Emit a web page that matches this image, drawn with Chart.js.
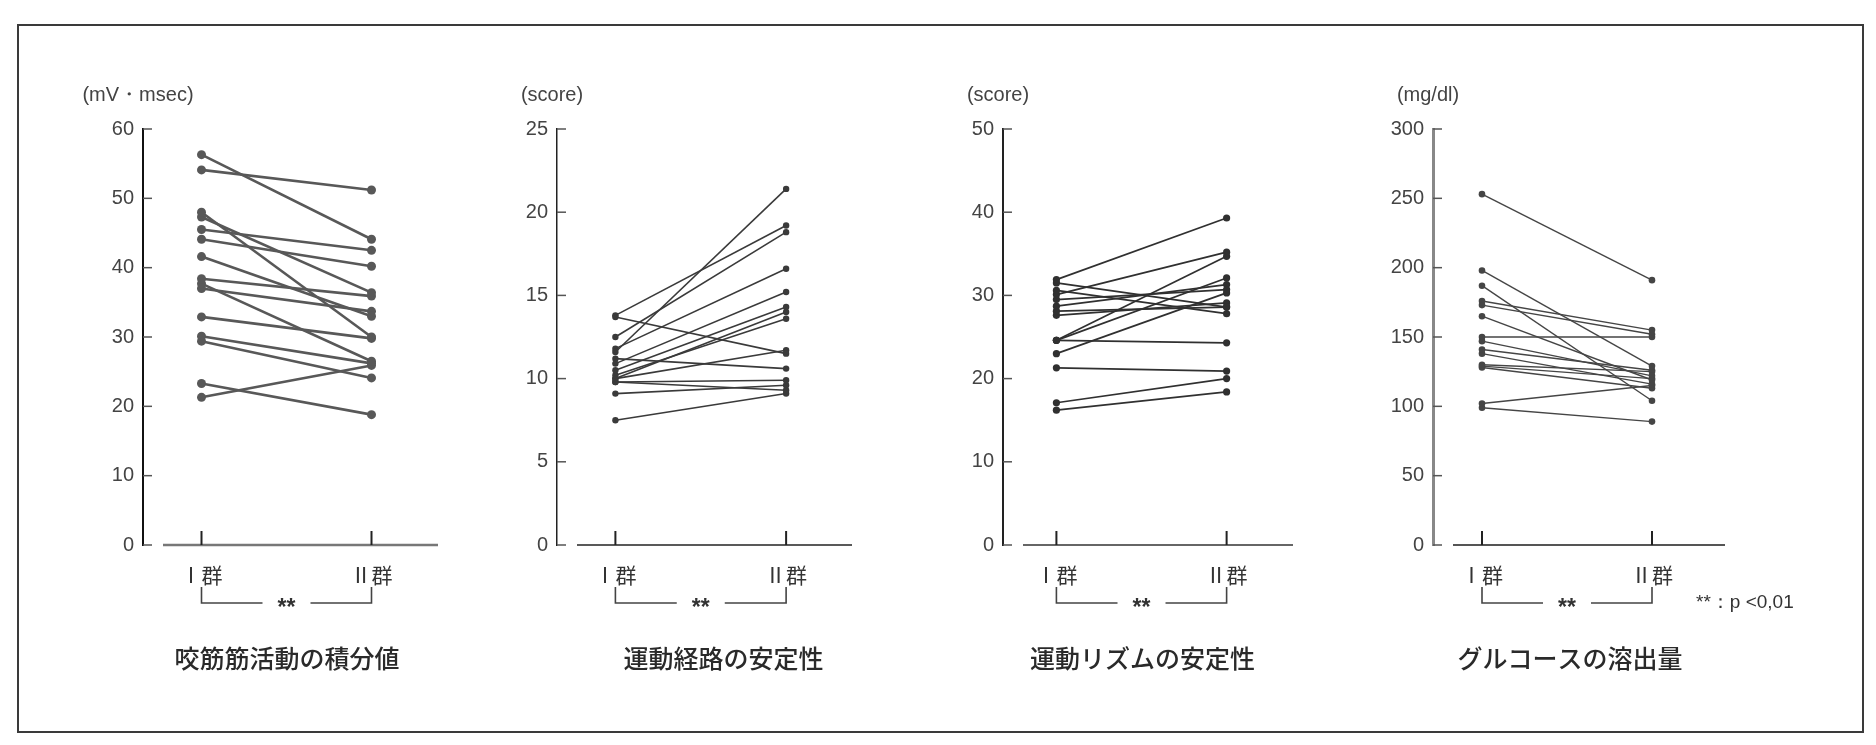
<!DOCTYPE html>
<html><head><meta charset="utf-8">
<script src="https://cdn.jsdelivr.net/npm/chart.js@4.4.0/dist/chart.umd.min.js"></script>
<style>
html,body{margin:0;padding:0;background:#fff;width:1876px;height:745px;overflow:hidden;}
#frame{position:absolute;left:17px;top:24px;width:1843px;height:705px;border:2px solid #3a3a3a;box-sizing:content-box;}
canvas{position:absolute;}
#note{position:absolute;left:1696px;top:589px;font:19px "Liberation Sans",Arial,sans-serif;color:#333;white-space:nowrap;}
</style></head><body>
<div id="frame"></div>
<canvas id="c0"></canvas><canvas id="c1"></canvas><canvas id="c2"></canvas><canvas id="c3"></canvas>
<div id="note"></div>
<script>
// ---- data ----
const groupLabels = ['Ⅰ群', 'Ⅱ群'];
const unitLabels = ['(mV・msec)', '(score)', '(score)', '(mg/dl)'];
const panelTitles = ['咬筋筋活動の積分値', '運動経路の安定性', '運動リズムの安定性', 'グルコースの溶出量'];
const sigMark = '**';
const noteText = '**：p <0,01';

const masseterI  = [56.3, 54.1, 48.0, 47.3, 45.5, 44.1, 41.6, 38.4, 37.7, 37.0, 32.9, 30.1, 29.4, 23.3, 21.3];
const masseterII = [44.1, 51.2, 30.0, 36.4, 42.5, 40.2, 33.0, 35.9, 26.5, 33.7, 29.8, 26.2, 24.1, 18.8, 25.9];

const pathI  = [13.8, 13.7, 12.5, 11.6, 11.8, 10.9, 10.5, 10.2, 10.0, 10.0, 11.2, 9.8, 9.8, 9.1, 7.5];
const pathII = [19.2, 11.5, 18.8, 21.4, 16.6, 15.2, 14.3, 13.6, 14.0, 11.7, 10.6, 9.9, 9.3, 9.6, 9.1];

const rhythmI  = [31.9, 31.5, 30.6, 30.1, 29.5, 28.7, 28.1, 27.6, 24.6, 24.6, 24.6, 23.0, 21.3, 17.1, 16.2];
const rhythmII = [39.3, 28.6, 27.8, 35.2, 30.7, 31.3, 28.6, 29.1, 32.1, 34.7, 24.3, 30.3, 20.9, 20.0, 18.4];

const glucoseI  = [253, 198, 187, 176, 173, 165, 150, 147, 141, 138, 130, 128, 129, 102, 99];
const glucoseII = [191, 129, 104, 155, 152, 119, 150, 122, 126, 116, 125, 113, 120, 115, 89];

const yMaxes = [60, 25, 50, 300];
const ySteps = [10, 5, 10, 50];

const seriesI  = [masseterI, pathI, rhythmI, glucoseI];
const seriesII = [masseterII, pathII, rhythmII, glucoseII];

// ---- layout / style ----
const geom = [
  {L0: 143,    pI: 201.5, pII: 371.5, R0: 438,  titleX: 287,  line: '#585858', lw: 2.6, r: 4.5, yAx: '#111', yAxW: 2,   xAx: '#777', xAxW: 2.5},
  {L0: 556.5,  pI: 615,   pII: 786,   R0: 852,  titleX: 723,  line: '#3a3a3a', lw: 1.6, r: 3.2, yAx: '#222', yAxW: 1.5, xAx: '#222', xAxW: 1.5},
  {L0: 1002.5, pI: 1056,  pII: 1226.5,R0: 1293, titleX: 1142, line: '#303030', lw: 1.7, r: 3.6, yAx: '#222', yAxW: 2,   xAx: '#333', xAxW: 1.5},
  {L0: 1433,   pI: 1482,  pII: 1652,  R0: 1725, titleX: 1570, line: '#454545', lw: 1.4, r: 3.3, yAx: '#888', yAxW: 3,   xAx: '#555', xAxW: 2}
];
const Y_AXIS_W = 70, TOP = 60, HEIGHT = 640, PAD_TOP = 69, PAD_R = 10, AXIS_Y = 545;

const decor = {
  id: 'decor',
  afterDraw(chart, args, o) {
    const {ctx, chartArea: a, scales: {x, y}} = chart;
    const y0 = y.getPixelForValue(0);
    ctx.save();
    ctx.lineCap = 'butt';
    ctx.strokeStyle = o.xAx; ctx.lineWidth = o.xAxW;
    ctx.beginPath(); ctx.moveTo(a.left + 20, y0); ctx.lineTo(a.right, y0); ctx.stroke();
    ctx.strokeStyle = '#555'; ctx.lineWidth = 1.5;
    y.ticks.forEach(t => {
      const py = y.getPixelForValue(t.value);
      ctx.beginPath(); ctx.moveTo(a.left, py); ctx.lineTo(a.left + 9, py); ctx.stroke();
    });
    const px = [0, 1].map(v => x.getPixelForValue(v));
    ctx.strokeStyle = '#222'; ctx.lineWidth = 2;
    px.forEach(p => { ctx.beginPath(); ctx.moveTo(p, y0); ctx.lineTo(p, y0 - 14); ctx.stroke(); });
    const bt = y0 + 42, bl = y0 + 58, mid = (px[0] + px[1]) / 2;
    ctx.strokeStyle = '#444'; ctx.lineWidth = 1.6;
    ctx.beginPath();
    ctx.moveTo(px[0], bt); ctx.lineTo(px[0], bl); ctx.lineTo(mid - 24, bl);
    ctx.moveTo(mid + 24, bl); ctx.lineTo(px[1], bl); ctx.lineTo(px[1], bt);
    ctx.stroke();
    ctx.fillStyle = '#333'; ctx.font = 'bold 23px "Liberation Sans", Arial, sans-serif';
    ctx.textAlign = 'center'; ctx.textBaseline = 'middle';
    ctx.fillText(sigMark, mid, bl + 6);
    ctx.font = '20px "Liberation Sans", Arial, sans-serif'; ctx.fillStyle = '#444';
    ctx.fillText(o.unit, a.left - 5, a.top - 34);
    ctx.font = '500 25px "Noto Sans CJK JP", sans-serif'; ctx.fillStyle = '#2a2a2a';
    ctx.fillText(o.title, o.titleX - o.canvasLeft, y0 + 113);
    ctx.restore();
  }
};

document.getElementById('note').textContent = noteText;

geom.forEach((g, i) => {
  const cv = document.getElementById('c' + i);
  const left = g.L0 - Y_AXIS_W;
  const width = g.R0 - left + PAD_R;
  cv.width = width; cv.height = HEIGHT;
  cv.style.left = left + 'px'; cv.style.top = TOP + 'px';
  const k = g.pII - g.pI;
  const xmin = -(g.pI - g.L0) / k, xmax = (g.R0 - g.pI) / k;
  const datasets = seriesI[i].map((v, j) => ({
    data: [{x: 0, y: v}, {x: 1, y: seriesII[i][j]}],
    showLine: true,
    borderColor: g.line, backgroundColor: g.line, borderWidth: g.lw,
    pointRadius: g.r, pointBorderWidth: 0, pointBackgroundColor: g.line
  }));
  new Chart(cv, {
    type: 'scatter',
    data: {datasets},
    plugins: [decor],
    options: {
      responsive: false, animation: false, devicePixelRatio: 1,
      layout: {padding: {top: PAD_TOP, right: PAD_R, left: 0, bottom: 0}},
      plugins: {
        legend: {display: false}, tooltip: {enabled: false},
        decor: {xAx: g.xAx, xAxW: g.xAxW, unit: unitLabels[i], title: panelTitles[i], titleX: g.titleX, canvasLeft: left}
      },
      scales: {
        x: {
          type: 'linear', min: xmin, max: xmax,
          afterBuildTicks: s => { s.ticks = [{value: 0}, {value: 1}]; },
          afterFit: s => { s.height = TOP + HEIGHT - AXIS_Y; },
          grid: {display: false, drawTicks: false},
          border: {display: false},
          ticks: {
            callback: v => groupLabels[v], padding: 17, maxRotation: 0, autoSkip: false,
            color: '#333', font: {family: '"Noto Sans CJK JP", sans-serif', size: 21}
          }
        },
        y: {
          min: 0, max: yMaxes[i],
          afterFit: s => { s.width = Y_AXIS_W; },
          grid: {display: false, drawTicks: false},
          border: {display: true, color: g.yAx, width: g.yAxW},
          ticks: {
            stepSize: ySteps[i], padding: 9, color: '#444',
            font: {family: '"Liberation Sans", Arial, sans-serif', size: 20}
          }
        }
      }
    }
  });
});
</script>
</body></html>
